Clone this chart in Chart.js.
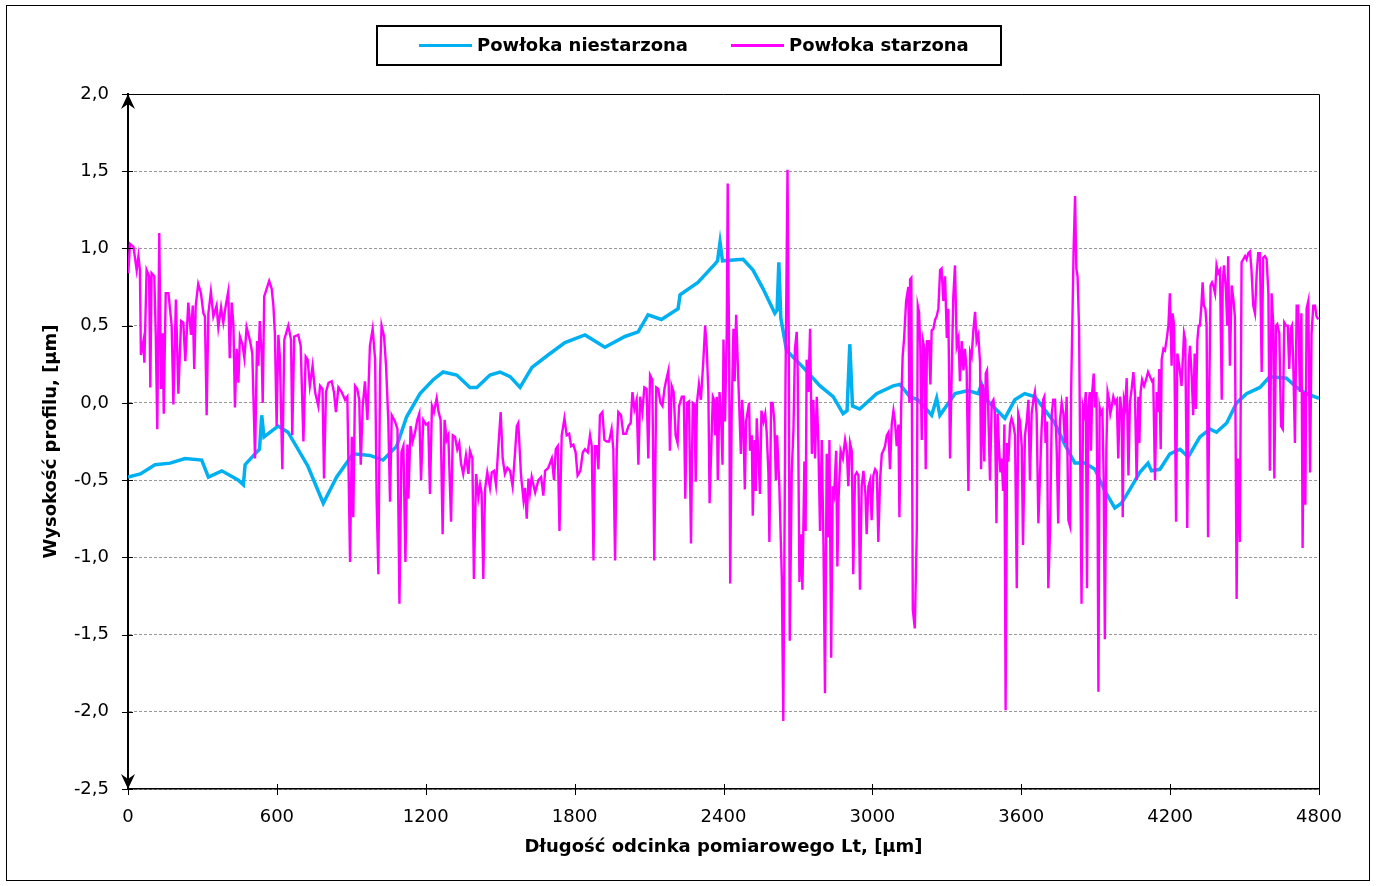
<!DOCTYPE html>
<html><head><meta charset="utf-8">
<script src="https://cdn.jsdelivr.net/npm/chart.js@4.4.1/dist/chart.umd.min.js"></script>
<style>html,body{margin:0;padding:0;background:#fff}#wrap{width:1376px;height:886px;position:relative}</style>
</head><body><div id="wrap"><canvas id="c" width="1376" height="886"></canvas></div>
<script>
const seriesNames = ['Powłoka niestarzona', 'Powłoka starzona'];
const xTitle = 'Długość odcinka pomiarowego Lt, [µm]';
const yTitle = 'Wysokość profilu, [µm]';
const xTicks = [0, 600, 1200, 1800, 2400, 3000, 3600, 4200, 4800];
const yTicks = [-2.5, -2.0, -1.5, -1.0, -0.5, 0.0, 0.5, 1.0, 1.5, 2.0];

const blueX = [0,50,109,170,230,297,324,378,445,465,472,512,530,539,548,605,645,725,787,841,
907,975,1028,1083,1123,1177,1230,1270,1325,1378,1406,1459,1499,1540,1580,1628,1693,1761,1842,1922,
2003,2056,2096,2150,2217,2225,2297,2366,2376,2386,2396,2479,2519,2559,2607,2616,2623,2631,2654,2721,
2789,2842,2882,2898,2909,2920,2949,3017,3084,3111,3151,3184,3239,3259,3272,3333,3386,3426,3440,3460,
3534,3574,3614,3655,3735,3776,3816,3856,3897,3937,3977,4004,4038,4078,4111,4125,4159,4199,4240,4273,
4320,4361,4387,4428,4468,4508,4562,4602,4669,4710,4750,4800];
const blueY = [-0.48,-0.46,-0.40,-0.39,-0.36,-0.37,-0.48,-0.44,-0.50,-0.53,-0.40,-0.33,-0.30,-0.08,-0.22,-0.15,-0.19,-0.41,-0.65,-0.48,
-0.33,-0.34,-0.37,-0.28,-0.09,0.06,0.15,0.20,0.18,0.10,0.10,0.18,0.20,0.17,0.10,0.23,0.31,0.39,0.44,0.36,
0.43,0.46,0.57,0.54,0.61,0.70,0.78,0.90,0.92,1.04,0.92,0.93,0.86,0.74,0.58,0.60,0.91,0.55,0.34,0.23,
0.11,0.04,-0.07,-0.05,0.38,-0.02,-0.04,0.06,0.11,0.12,0.04,0.02,-0.08,0.03,-0.08,0.06,0.08,0.06,0.12,0.02,
-0.10,0.02,0.06,0.04,-0.13,-0.27,-0.39,-0.39,-0.43,-0.57,-0.68,-0.65,-0.56,-0.45,-0.39,-0.44,-0.43,-0.33,-0.30,-0.35,
-0.22,-0.17,-0.19,-0.13,0.00,0.06,0.10,0.17,0.16,0.10,0.06,0.03];

const magX = [1,8,22,35,42,48,52,62,66,75,85,90,95,106,112,118,126,133,140,144,
152,163,176,183,193,203,214,223,231,243,254,261,267,273,283,294,304,310,317,324,
334,344,357,364,375,384,395,404,410,418,425,431,438,445,451,461,469,478,492,501,
512,520,525,531,539,543,549,559,569,579,586,592,599,606,612,622,630,646,657,662,
670,686,696,707,716,724,733,744,754,767,774,784,790,
798,808,821,830,838,848,861,875,884,895,902,908,915,924,932,938,946,955,965,975,
986,996,1002,1009,1016,1022,1032,1040,1049,1056,1063,1076,1086,1094,1102,1110,1118,1126,1130,1139,
1147,1157,1166,1174,1181,1190,1201,1210,1217,1225,1233,1244,1252,1260,1268,1276,1284,1291,1302,1309,
1318,1327,1335,1342,1351,1362,1372,1378,1388,1394,1403,1412,1419,1425,1432,1439,1448,1459,1466,1475,
1483,1492,1502,1510,1519,1529,1540,1550,
1560,1567,1573,1584,1594,1600,1607,1614,1620,1627,1641,1654,1665,1674,1681,1694,1708,1717,1724,1732,
1739,1748,1759,1768,1778,1786,1795,1804,1812,1823,1833,1842,1853,1862,1869,1876,1882,1889,1896,1902,
1912,1920,1929,1939,1949,1956,1963,1970,1976,1987,1996,2007,2017,2026,2033,2041,2050,2057,2064,2073,
2081,2090,2097,2104,2113,2121,2129,2137,2146,2154,2162,2168,2178,2184,2191,2199,2207,2215,2221,2232,
2240,2246,2253,2261,2269,2276,2283,2288,2293,2301,2309,2319,2326,2332,2339,2344,
2357,2362,2366,2373,2377,2384,2390,2396,2400,2406,2413,2417,2423,2427,2433,2440,2445,2451,2456,2464,
2470,2475,2480,2486,2491,2496,2503,2507,2514,2518,2525,2530,2534,2541,2547,2553,2561,2568,2574,2581,
2585,2592,2598,2605,2611,2616,2625,2635,2641,2650,2658,2663,2667,2675,2682,2688,2695,2699,2706,2714,
2718,2726,2731,2735,2742,2749,2756,2762,2769,2776,2782,2789,2796,2803,2809,2816,2823,2827,2834,2840,
2846,2854,2859,2864,2872,2881,2890,2897,2903,2910,2917,2923,2930,2937,2944,2950,2957,2964,2972,2977,
2984,2991,2997,3004,3011,3018,3024,3031,3038,3044,3051,3058,3065,3071,3078,3085,3091,3098,3105,3109,
3116,3122,3128,3136,3145,3149,3152,3157,3163,3171,
3179,3183,3188,3193,3199,3204,3210,3215,3220,3228,3234,3239,3246,3253,3259,3266,3273,3279,3286,3293,
3300,3306,3313,3320,3326,3333,3340,3347,3353,3360,3367,3373,3380,3387,3394,3400,3407,3414,3420,3427,
3434,3438,3445,3451,3457,3462,3467,3474,3481,3488,3494,3500,3505,3510,3516,3521,3527,3532,3537,3543,
3548,3555,3561,3568,3575,3582,3588,3595,3602,3607,3615,3622,3629,3635,3642,3649,3655,3662,3669,3676,
3682,3688,3693,3698,3704,3709,3716,3723,3729,3736,3743,3749,3756,3763,3770,3776,3783,3790,3797,3801,
3806,3811,3817,3822,3827,3833,3837,3843,3849,3854,3860,3865,3870,3876,3881,3886,3892,3897,3903,3908,
3911,3916,3921,3927,3932,3937,3943,3948,3954,3959,3964,3971,3978,3985,3991,3998,
4005,4009,4014,4019,4025,4032,4038,4045,4052,4058,4065,4072,4076,4081,4087,4095,4103,4111,4119,4127,
4132,4139,4146,4152,4156,4162,4166,4173,4179,4186,4193,4199,4206,4210,4216,4224,4229,4237,4246,4256,
4261,4269,4275,4280,4287,4293,4299,4304,4310,4315,4320,4326,4331,4336,4342,4347,4353,4358,4363,4369,
4374,4381,4387,4394,4401,4408,4412,4417,4425,4430,4434,4441,4448,4455,4461,4468,4473,4481,4488,4495,
4502,4508,4515,4522,4528,4535,4542,4549,4555,4562,4569,4575,4582,4589,4596,4602,4609,4616,4620,4627,
4632,4640,4647,4654,4660,4667,4674,4680,4686,4691,4696,4703,4710,4716,4723,4729,4734,4739,4745,4750,
4757,4764,4770,4777,4784,4790,4797];
const magY = [0.84,1.03,1.01,0.86,0.95,0.86,0.31,0.40,0.26,0.86,0.82,0.10,0.84,0.82,0.43,-0.17,1.10,0.09,0.45,-0.07,
0.71,0.71,0.50,-0.01,0.67,0.06,0.53,0.52,0.27,0.65,0.44,0.63,0.22,0.63,0.77,0.71,0.58,0.56,-0.08,0.58,
0.72,0.56,0.63,0.49,0.62,0.52,0.64,0.72,0.29,0.65,0.50,-0.03,0.35,0.13,0.43,0.38,0.29,0.49,0.40,0.32,
-0.36,0.40,0.24,0.53,0.30,0.00,0.69,0.74,0.79,0.74,0.63,0.45,-0.15,0.44,0.30,-0.43,0.41,0.50,0.41,-0.21,
0.43,0.44,0.37,-0.25,0.30,0.28,0.11,0.24,0.07,-0.02,0.11,0.09,-0.49,
0.07,0.13,0.14,0.07,-0.06,0.10,0.07,0.02,0.04,-1.03,-0.22,-0.74,0.11,0.09,0.02,-0.40,-0.02,0.14,-0.11,0.37,
0.48,0.28,-0.62,-1.11,0.20,0.50,0.43,0.24,-0.11,-0.64,-0.08,-0.12,-0.17,-1.30,-0.32,-0.28,-1.03,-0.27,-0.62,-0.15,
-0.25,-0.19,-0.11,-0.07,-0.50,-0.11,-0.14,-0.13,-0.59,-0.02,-0.06,0.03,-0.06,-0.11,-0.85,-0.11,-0.24,-0.21,-0.77,-0.21,
-0.22,-0.30,-0.26,-0.39,-0.46,-0.34,-0.46,-0.31,-0.36,-1.14,-0.46,-0.61,-0.53,-0.58,-1.14,-0.56,-0.45,-0.55,-0.45,-0.44,
-0.53,-0.30,-0.06,-0.36,-0.46,-0.42,-0.44,-0.54,
-0.32,-0.15,-0.13,-0.47,-0.63,-0.55,-0.75,-0.49,-0.58,-0.48,-0.58,-0.50,-0.48,-0.60,-0.44,-0.42,-0.36,-0.50,-0.30,-0.28,
-0.83,-0.21,-0.10,-0.21,-0.20,-0.28,-0.27,-0.32,-0.47,-0.44,-0.32,-0.30,-0.32,-0.21,-0.28,-1.02,-0.28,-0.28,-0.43,-0.08,
-0.06,-0.24,-0.25,-0.25,-0.17,-0.30,-1.02,-0.30,-0.06,-0.08,-0.20,-0.20,-0.15,-0.13,0.07,-0.04,0.02,-0.40,0.04,-0.06,
0.10,0.09,-0.36,0.18,0.15,-1.02,0.10,0.09,0.00,-0.02,0.09,0.14,0.21,-0.31,0.11,0.07,-0.21,-0.26,-0.02,0.04,
0.04,-0.62,0.00,0.01,-0.91,0.00,-0.01,-0.51,0.00,0.12,0.02,0.28,0.50,0.37,0.07,-0.65,
0.04,0.02,-0.21,0.04,-0.50,0.07,-0.07,-0.40,0.41,-0.12,0.44,1.42,0.26,-1.17,-0.07,0.48,0.14,0.57,0.33,-0.05,
-0.33,0.02,-0.12,-0.56,-0.12,-0.07,0.00,-0.31,-0.21,-0.73,-0.24,-0.57,-0.10,-0.36,-0.59,-0.05,-0.12,-0.07,-0.19,-0.45,
-0.90,0.00,0.00,-0.12,-0.50,-0.21,-0.54,-1.13,-2.06,0.16,1.51,0.40,-1.54,-0.45,-0.17,0.35,0.46,0.21,-1.16,-0.85,
-1.21,-0.38,-0.83,0.28,0.07,0.48,-0.33,0.02,-0.36,0.04,-0.24,-0.83,-0.24,-0.92,-1.88,-0.33,-0.87,-0.24,-1.65,-0.54,
-0.59,-0.31,-1.06,-0.61,-0.31,-0.36,-0.24,-0.31,-0.54,-0.26,-0.31,-1.11,-0.47,-0.45,-0.47,-1.21,-0.54,-0.44,-0.59,-0.85,
-0.54,-0.50,-0.76,-0.47,-0.43,-0.45,-0.90,-0.50,-0.33,-0.31,-0.28,-0.21,-0.19,-0.43,-0.14,-0.05,-0.12,-0.28,-0.14,-0.74,
-0.03,0.30,0.42,0.66,0.75,0.00,0.80,0.81,-1.34,-1.46,
-0.83,0.63,0.59,0.37,-0.24,0.40,0.35,-0.43,0.40,0.40,0.12,0.47,0.48,0.54,0.56,0.61,0.86,0.87,0.66,0.82,
0.42,0.61,-0.36,0.21,0.68,0.89,0.37,0.42,0.14,0.40,0.21,0.35,0.21,-0.57,0.33,0.30,0.47,0.59,0.40,0.44,
0.26,-0.43,0.12,-0.38,0.19,0.21,-0.05,-0.50,0.00,0.02,-0.07,-0.78,-0.07,-0.28,-0.45,-0.36,-0.57,-0.14,-1.99,-0.26,
-0.38,-0.14,-0.10,-0.14,-0.21,-1.20,-0.07,-0.12,-0.28,-0.92,-0.21,-0.12,0.02,-0.50,-0.07,0.02,0.07,-0.07,-0.78,-0.45,
-0.17,0.02,0.04,-0.26,-0.12,-1.20,-0.83,-0.07,0.02,0.02,-0.31,-0.78,-0.12,0.00,-0.07,-0.26,0.04,-0.76,-0.80,0.07,
0.52,0.99,1.34,0.87,0.82,0.49,-0.24,-1.30,-0.03,-0.07,0.07,-1.20,-0.03,0.07,-0.31,0.07,0.19,-0.03,0.07,-0.78,
-1.87,-0.03,-0.07,-0.05,-0.47,-1.53,-0.31,0.07,0.02,-0.07,-0.03,0.04,0.00,0.02,-0.36,0.04,
-0.06,-0.74,0.02,-0.02,0.16,-0.47,0.00,0.09,0.20,0.07,-0.50,0.04,-0.26,0.07,0.15,0.11,0.15,0.20,0.17,0.14,
0.15,-0.50,0.07,-0.06,0.22,-0.30,0.28,0.35,0.34,0.41,0.50,0.71,0.24,0.58,0.50,-0.77,0.32,0.24,0.11,0.45,
0.41,-0.81,0.26,0.37,0.17,-0.08,0.32,-0.04,0.41,0.50,0.50,0.63,0.78,0.63,0.61,0.50,-0.87,0.07,0.76,0.78,
0.76,0.71,0.89,0.84,0.86,0.02,0.78,0.89,0.73,0.50,0.95,0.24,0.76,0.67,0.56,-1.27,-0.36,-0.90,0.91,0.93,
0.95,0.93,0.97,0.98,0.86,0.63,0.58,0.84,0.97,0.97,0.20,0.94,0.95,0.93,0.71,-0.44,0.71,0.50,-0.49,0.50,
0.51,0.45,-0.15,-0.17,0.52,0.50,0.50,0.22,0.48,0.50,0.28,-0.26,0.63,0.63,0.07,0.58,-0.94,0.07,-0.66,0.61,
0.66,-0.45,0.45,0.63,0.63,0.56,0.54];

const FONT = "'DejaVu Sans', 'Liberation Sans', sans-serif";
const BLUE = '#00B0F0';
const MAGENTA = '#FF00FF';

const toPoints = (xs, ys) => xs.map((x, i) => ({x: x, y: ys[i]}));

const decor = {
  id: 'decor',
  beforeDraw(chart) {
    const c = chart.ctx;
    c.save();
    c.fillStyle = '#fff';
    c.fillRect(0, 0, chart.width, chart.height);
    c.restore();
  },
  afterDraw(chart) {
    const ctx = chart.ctx;
    const a = chart.chartArea;
    const xs = chart.scales.x, ys = chart.scales.y;
    ctx.save();
    ctx.strokeStyle = '#000';
    ctx.lineWidth = 1;
    ctx.beginPath();
    ctx.moveTo(a.left, a.top + 0.5);
    ctx.lineTo(a.right + 0.5, a.top + 0.5);
    ctx.lineTo(a.right + 0.5, a.bottom);
    ctx.stroke();
    ctx.beginPath();
    yTicks.forEach(v => {
      const py = Math.round(ys.getPixelForValue(v)) + 0.5;
      ctx.moveTo(a.left - 6, py); ctx.lineTo(a.left + 5, py);
    });
    xTicks.forEach(v => {
      const px = Math.round(xs.getPixelForValue(v)) + 0.5;
      ctx.moveTo(px, a.bottom - 5); ctx.lineTo(px, a.bottom + 6);
    });
    ctx.stroke();
    const L = a.left;
    ctx.fillStyle = '#000';
    ctx.beginPath();
    ctx.moveTo(L, a.top); ctx.lineTo(L - 7, a.top + 15); ctx.lineTo(L, a.top + 10); ctx.lineTo(L + 7, a.top + 15); ctx.closePath();
    ctx.fill();
    ctx.beginPath();
    ctx.moveTo(L, a.bottom); ctx.lineTo(L - 7, a.bottom - 15); ctx.lineTo(L, a.bottom - 10); ctx.lineTo(L + 7, a.bottom - 15); ctx.closePath();
    ctx.fill();
    ctx.lineWidth = 2;
    ctx.strokeStyle = '#000';
    ctx.strokeRect(377, 26, 624, 39);
    ctx.lineWidth = 3;
    ctx.strokeStyle = BLUE;
    ctx.beginPath(); ctx.moveTo(419, 45.5); ctx.lineTo(472, 45.5); ctx.stroke();
    ctx.strokeStyle = MAGENTA;
    ctx.beginPath(); ctx.moveTo(731, 45.5); ctx.lineTo(784, 45.5); ctx.stroke();
    ctx.fillStyle = '#000';
    ctx.font = 'bold 18px ' + FONT;
    ctx.textBaseline = 'middle';
    ctx.textAlign = 'left';
    ctx.fillText(seriesNames[0], 477, 46);
    ctx.fillText(seriesNames[1], 789, 46);
    ctx.lineWidth = 1;
    ctx.strokeStyle = '#000';
    ctx.strokeRect(6.5, 5.5, 1363, 875);
    ctx.restore();
  }
};

new Chart(document.getElementById('c'), {
  type: 'line',
  data: {
    datasets: [
      {label: seriesNames[0], data: toPoints(blueX, blueY), borderColor: BLUE, backgroundColor: BLUE,
       borderWidth: 3.5, pointRadius: 0, tension: 0, order: 1},
      {label: seriesNames[1], data: toPoints(magX, magY), borderColor: MAGENTA, backgroundColor: MAGENTA,
       borderWidth: 2.4, pointRadius: 0, tension: 0, order: 0}
    ]
  },
  options: {
    responsive: false,
    animation: false,
    events: [],
    layout: {padding: {top: 94, right: 57, bottom: 0, left: 0}},
    plugins: {legend: {display: false}, tooltip: {enabled: false}},
    scales: {
      x: {
        type: 'linear', min: 0, max: 4800,
        afterBuildTicks: s => { s.ticks = xTicks.map(v => ({value: v})); },
        afterFit: s => { s.height = 97; },
        grid: {display: false, drawTicks: false},
        border: {display: true, color: '#000', width: 1.5},
        ticks: {padding: 18, color: '#000', font: {family: FONT, size: 18}, maxRotation: 0, autoSkip: false,
                callback: v => String(v)},
        title: {display: true, text: xTitle, color: '#000', font: {family: FONT, size: 18, weight: 'bold'},
                padding: {top: 0, bottom: 28}}
      },
      y: {
        type: 'linear', min: -2.5, max: 2.0,
        afterBuildTicks: s => { s.ticks = yTicks.map(v => ({value: v})); },
        afterFit: s => { s.width = 128; },
        grid: {color: '#999999', lineWidth: 1, drawTicks: false},
        border: {display: true, color: '#000', width: 2, dash: [3, 2]},
        ticks: {padding: 19, color: '#000', font: {family: FONT, size: 18},
                callback: v => v.toFixed(1).replace('.', ',')},
        title: {display: true, text: yTitle, color: '#000', font: {family: FONT, size: 18, weight: 'bold'},
                padding: {top: 41, bottom: 0}}
      }
    }
  },
  plugins: [decor]
});
</script>
</body></html>
